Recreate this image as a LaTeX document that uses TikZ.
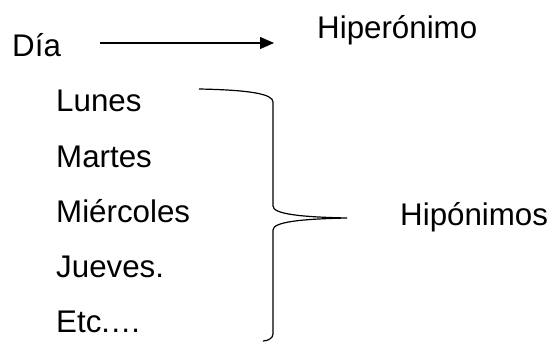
\documentclass[tikz,border=0pt]{standalone}
\usepackage{fontspec}
\setmainfont{Liberation Sans}
\usetikzlibrary{arrows.meta}
\begin{document}
\begin{tikzpicture}[x=1pt,y=-1pt,
  lbl/.style={anchor=base west,inner sep=0pt,font=\fontsize{31.3}{37}\selectfont},
  ln/.style={line width=1.2pt,black}]
\useasboundingbox (0,0) rectangle (551,342);
\node[lbl] (dia) at (12,57) {Día};
\node[lbl] (hiper) at (317,39) {Hiperónimo};
\node[lbl] (lunes) at (56,112) {Lunes};
\node[lbl] (martes) at (56,167) {Martes};
\node[lbl] (mier) at (56,222) {Miércoles};
\node[lbl] (jueves) at (56,277) {Jueves.};
\node[lbl] (etc) at (56,332) {Etc.…};
\node[lbl] (hipo) at (400,225) {Hipónimos};
\coordinate (a1) at (100,43);
\coordinate (a2) at (274,43);
\draw[ln,-{Triangle[length=14pt,width=12pt]}] (a1) -- (a2);
\coordinate (btop) at (199,89);
\coordinate (btip) at (347,218);
\coordinate (bbot) at (263,341);
\draw[ln] (btop) .. controls (250,90) and (273,94) .. (273,102)
  -- (273,206) .. controls (273,214) and (300,217) .. (btip)
  .. controls (300,219) and (273,222) .. (273,230)
  -- (273,334) .. controls (273,338) and (268,341) .. (bbot);
\end{tikzpicture}
\end{document}
